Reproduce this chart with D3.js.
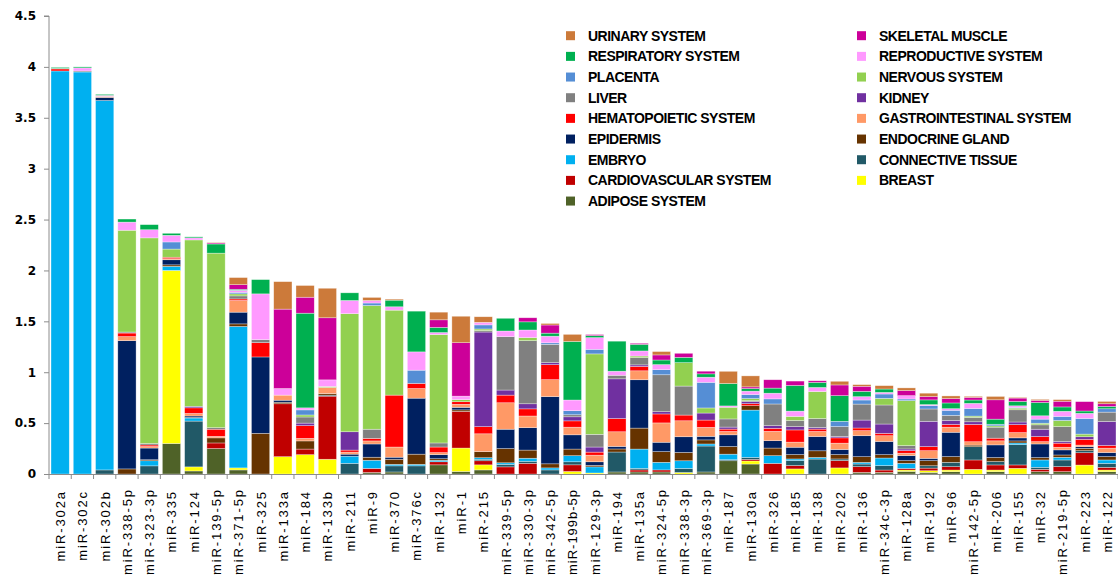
<!DOCTYPE html>
<html>
<head>
<meta charset="utf-8">
<script src="https://cdn.jsdelivr.net/npm/d3@7"></script>
<style>
  html, body { margin: 0; padding: 0; background: #fff; }
  svg { display: block; }
</style>
</head>
<body>
<svg id="chart" width="1118" height="578"></svg>
<script>
// microRNA names, in display order
const categories = ["miR-302a","miR-302c","miR-302b","miR-338-5p","miR-323-3p","miR-335","miR-124","miR-139-5p","miR-371-5p","miR-325","miR-133a","miR-184","miR-133b","miR-211","miR-9","miR-370","miR-376c","miR-132","miR-1","miR-215","miR-339-5p","miR-330-3p","miR-342-5p","miR-199b-5p","miR-129-3p","miR-194","miR-135a","miR-324-5p","miR-338-3p","miR-369-3p","miR-187","miR-130a","miR-326","miR-185","miR-138","miR-202","miR-136","miR-34c-3p","miR-128a","miR-192","miR-96","miR-142-5p","miR-206","miR-155","miR-32","miR-219-5p","miR-223","miR-122"];

// tissue systems, stacked bottom to top
const seriesNames = ["ADIPOSE SYSTEM","BREAST","CARDIOVASCULAR SYSTEM","CONNECTIVE TISSUE","EMBRYO","ENDOCRINE GLAND","EPIDERMIS","GASTROINTESTINAL SYSTEM","HEMATOPOIETIC SYSTEM","KIDNEY","LIVER","NERVOUS SYSTEM","PLACENTA","REPRODUCTIVE SYSTEM","RESPIRATORY SYSTEM","SKELETAL MUSCLE","URINARY SYSTEM"];
const seriesColors = ["#4F6228","#FFFF00","#C00000","#215967","#00B0F0","#663300","#002060","#FF9966","#FF0000","#7030A0","#808080","#92D050","#558ED5","#FF99FF","#00B050","#CC0099","#CC7A3A"];

// per-system values, one per microRNA
const adipose      = [0,0,0,0,0,0.30,0.03,0.25,0.04,0,0,0,0,0,0.015,0.02,0,0.09,0.025,0.04,0,0,0,0,0,0.02,0.02,0.02,0,0.02,0.13,0.098,0,0,0,0,0.016,0.016,0.026,0.016,0.023,0,0.023,0,0.023,0.023,0,0.023];
const breast       = [0,0,0,0,0,1.70,0.04,0,0.02,0,0.17,0.19,0.145,0,0,0,0,0,0.23,0.05,0,0,0,0.025,0.01,0,0,0,0.015,0,0,0.03,0,0.05,0,0.06,0,0,0.013,0.016,0.016,0.046,0.016,0.056,0,0,0.088,0.016];
const cardio       = [0,0,0,0,0,0,0,0.055,0,0,0.52,0.055,0.62,0,0.04,0,0,0.03,0.36,0.04,0.07,0.105,0,0.065,0,0,0.02,0.02,0,0,0,0.015,0.105,0.033,0,0.072,0.056,0.023,0.016,0.026,0.033,0.092,0.05,0.033,0.023,0.05,0.121,0.026];
const connective   = [0,0,0.04,0,0.08,0,0.45,0,0,0,0,0,0.01,0.105,0,0.06,0.08,0,0,0.015,0.025,0.02,0.04,0.03,0,0.196,0.015,0,0.04,0.255,0.01,0.02,0,0.05,0.147,0.016,0.026,0.043,0,0.023,0.043,0.13,0.033,0.2,0.02,0.065,0.02,0.04];
const embryo       = [3.96,3.95,3.63,0,0.05,0.04,0.03,0,1.39,0,0,0,0,0.07,0.08,0.015,0.015,0.015,0,0.015,0.015,0.03,0.02,0.06,0.06,0,0.19,0.075,0.075,0.02,0.055,0.465,0.075,0.015,0.016,0,0.016,0.075,0.05,0,0,0,0,0.016,0.072,0.026,0,0.033];
const endocrine    = [0,0,0,0.05,0.01,0.015,0.005,0.05,0.025,0.40,0.015,0.08,0.015,0,0.03,0.05,0.1,0.015,0.015,0.06,0.14,0.08,0.04,0.065,0.015,0.03,0.206,0.105,0.082,0.04,0.075,0.043,0.075,0.043,0.065,0.043,0.056,0.033,0.026,0.05,0.056,0.016,0.04,0.02,0.023,0.023,0.023,0.033];
const epidermis    = [0,0,0.03,1.26,0.115,0.05,0.015,0,0.115,0.75,0.02,0,0,0.02,0.13,0.02,0.55,0.04,0.025,0,0.19,0.22,0.66,0.14,0.035,0.025,0.475,0.092,0.154,0.035,0.115,0,0.072,0.072,0.14,0.05,0.206,0.13,0.05,0.023,0.239,0,0.124,0.03,0.134,0.05,0.016,0.04];
const gastro       = [0,0,0.01,0.04,0.015,0.01,0.025,0.015,0.115,0,0.05,0.025,0.06,0.02,0.03,0.1,0.095,0.02,0.03,0.175,0.26,0.115,0.167,0.075,0.065,0.144,0.088,0.19,0.157,0.088,0.033,0,0.092,0.05,0.05,0.062,0.05,0.056,0.023,0.075,0.05,0.033,0.04,0.052,0.023,0.026,0.016,0.043];
const hemato       = [0.02,0,0,0.035,0.015,0.015,0.055,0.07,0.015,0.14,0,0.125,0,0.02,0.025,0.51,0.05,0.055,0.025,0.07,0.075,0.07,0.147,0.062,0.03,0.13,0.043,0.088,0.056,0.072,0.023,0.02,0.03,0.12,0.023,0.052,0.026,0.023,0.026,0.04,0.026,0.17,0.026,0.078,0.05,0.04,0.056,0.026];
const kidney       = [0,0,0,0,0,0,0.015,0,0,0,0,0.025,0,0.18,0,0,0,0,0,0.93,0.05,0.05,0.02,0.04,0.05,0.39,0.015,0.022,0,0.069,0.02,0.02,0.026,0.033,0.016,0.013,0.078,0.092,0.016,0.249,0.04,0.026,0,0.026,0.072,0.016,0.026,0.236];
const liver        = [0.005,0.01,0,0.01,0.015,0,0,0.015,0.03,0.03,0,0.06,0,0,0.09,0,0,0.04,0,0.015,0.525,0.62,0.18,0.02,0.125,0.035,0.072,0.363,0.285,0,0.08,0.01,0.213,0.06,0.088,0.098,0.157,0.187,0.033,0.121,0.05,0.043,0.108,0.12,0.043,0.147,0,0.092];
const nervous      = [0,0,0,1.0,2.02,0.08,1.635,1.715,0.02,0,0,0.02,0.01,1.16,1.215,0.835,0,1.065,0.02,0.015,0,0.03,0,0,0.79,0,0.015,0,0.23,0.05,0.115,0.02,0,0.04,0.265,0,0,0.065,0.442,0,0,0.013,0.013,0.016,0.016,0.06,0.026,0];
const placenta     = [0,0,0,0,0,0.07,0,0,0.015,0,0,0.05,0,0,0.025,0,0.13,0,0,0.04,0,0,0.015,0.04,0.045,0,0,0.05,0,0.252,0,0.04,0.05,0,0,0.052,0.04,0.043,0.016,0.033,0.05,0.075,0.016,0.007,0.04,0.04,0.154,0.033];
const reproductive = [0,0.03,0.01,0.08,0.08,0.065,0.02,0,0.02,0.45,0.065,0.02,0.065,0.13,0.025,0.033,0.18,0.02,0.035,0.025,0.055,0.075,0.065,0.105,0.115,0.04,0.05,0.05,0,0.05,0.013,0.033,0.056,0.052,0.04,0,0.033,0.016,0.033,0.01,0.016,0.05,0,0.016,0.033,0.05,0.05,0];
const respiratory  = [0.01,0.01,0.01,0.03,0.05,0.02,0.01,0.09,0.01,0.14,0,0.93,0,0.075,0,0.065,0.40,0.05,0,0,0.125,0.08,0.03,0.575,0.02,0.295,0.065,0.045,0.052,0.033,0.22,0.026,0.05,0.252,0.05,0.252,0.052,0.033,0,0.046,0.056,0.033,0.05,0.043,0.131,0.043,0.023,0.023];
const skeletal     = [0,0,0,0,0,0,0,0.01,0.045,0,0.78,0.157,0.61,0,0,0,0,0.075,0.525,0,0,0.04,0.08,0,0.01,0,0.01,0.05,0.04,0.026,0,0.016,0.082,0.043,0.016,0.105,0.05,0,0.05,0.033,0.043,0.026,0.19,0.033,0.02,0.056,0.092,0.026];
const urinary      = [0,0,0,0,0,0,0,0.005,0.07,0,0.27,0.115,0.29,0,0.03,0.01,0,0.075,0.26,0.055,0,0,0.015,0.07,0,0,0,0.033,0,0,0.12,0.108,0,0,0,0.036,0.016,0.033,0.026,0.033,0.026,0.01,0.033,0.007,0.01,0.016,0,0.023];

const yTicks = [0, 0.5, 1, 1.5, 2, 2.5, 3, 3.5, 4, 4.5];

const seriesValues = [adipose, breast, cardio, connective, embryo, endocrine, epidermis, gastro, hemato, kidney, liver, nervous, placenta, reproductive, respiratory, skeletal, urinary];

// one row per microRNA, keyed by system name
const rows = categories.map((c, i) => {
  const r = { name: c };
  seriesNames.forEach((s, j) => { r[s] = seriesValues[j][i]; });
  return r;
});

const W = 1118, H = 578;
const svg = d3.select("#chart");
const plot = { left: 49, right: 1118, top: 16, bottom: 474 };

const x = d3.scaleBand()
  .domain(categories)
  .range([plot.left, plot.right])
  .paddingInner(0.18)
  .paddingOuter(0.09);

const y = d3.scaleLinear()
  .domain([0, 4.5])
  .range([plot.bottom, plot.top]);

const color = d3.scaleOrdinal().domain(seriesNames).range(seriesColors);

const stacked = d3.stack().keys(seriesNames)(rows);

// stacked columns
svg.append("g")
  .selectAll("g")
  .data(stacked)
  .join("g")
  .attr("fill", d => color(d.key))
  .selectAll("rect")
  .data(d => d)
  .join("rect")
  .attr("x", d => x(d.data.name))
  .attr("width", x.bandwidth())
  .attr("y", d => y(d[1]))
  .attr("height", d => Math.max(0, y(d[0]) - y(d[1])))
  .attr("stroke", "#ffffff")
  .attr("stroke-opacity", 0.55)
  .attr("stroke-width", 0.6);

// y axis
const yAxis = svg.append("g")
  .attr("transform", `translate(${plot.left},0)`)
  .call(d3.axisLeft(y).tickValues(yTicks).tickSize(5).tickPadding(8).tickFormat(d3.format("")));
yAxis.select(".domain").attr("stroke", "#8c8c8c").attr("d", `M-5,${y(4.5)}H0V${plot.bottom}`);
yAxis.selectAll(".tick line").attr("stroke", "#8c8c8c");
yAxis.selectAll(".tick text")
  .attr("fill", "#000")
  .style("font-family", "'DejaVu Sans', Verdana, sans-serif")
  .style("font-weight", "bold")
  .style("font-size", "12px");

// x axis: baseline, boundary ticks and rotated names
const xg = svg.append("g");
xg.append("line")
  .attr("x1", plot.left).attr("x2", plot.right)
  .attr("y1", plot.bottom + 0.5).attr("y2", plot.bottom + 0.5)
  .attr("stroke", "#8c8c8c");
const step = x.step();
const bounds = d3.range(categories.length + 1).map(i => x(categories[0]) - x.paddingOuter() * step + i * step);
xg.selectAll("line.b")
  .data(bounds)
  .join("line")
  .attr("class", "b")
  .attr("x1", d => d).attr("x2", d => d)
  .attr("y1", plot.bottom).attr("y2", plot.bottom + 5)
  .attr("stroke", "#8c8c8c");

const labelTop = 490;
const maxLabelLen = H - labelTop - 3;
xg.selectAll("text")
  .data(categories)
  .join("text")
  .attr("transform", d => `translate(${x(d) + x.bandwidth() / 2 + 5},${labelTop}) rotate(-90)`)
  .attr("text-anchor", "end")
  .style("font-family", "'Liberation Sans', Arial, sans-serif")
  .style("font-size", "13px")
  .style("letter-spacing", "1.9px")
  .text(d => d)
  .each(function () {
    // squeeze any name that would run past the bottom edge
    const len = this.getComputedTextLength();
    if (len > maxLabelLen) {
      d3.select(this)
        .style("letter-spacing", null)
        .attr("textLength", maxLabelLen)
        .attr("lengthAdjust", "spacing");
    }
  });

// legend: two columns, reverse stacking order
const legendOrder = seriesNames.slice().reverse();
const legend = svg.append("g");
legendOrder.forEach((name, k) => {
  const col = k % 2, row = Math.floor(k / 2);
  const lx = col === 0 ? 566 : 857;
  const ly = 35.7 + row * 20.67;
  legend.append("rect")
    .attr("x", lx).attr("y", ly - 4.5)
    .attr("width", 9).attr("height", 9)
    .attr("fill", color(name));
  legend.append("text")
    .attr("x", lx + 22).attr("y", ly)
    .attr("dy", "0.36em")
    .style("font-family", "'Liberation Sans', Arial, sans-serif")
    .style("font-weight", "bold")
    .style("font-size", "14px")
    .style("letter-spacing", "-0.5px")
    .text(name);
});
</script>
</body>
</html>
